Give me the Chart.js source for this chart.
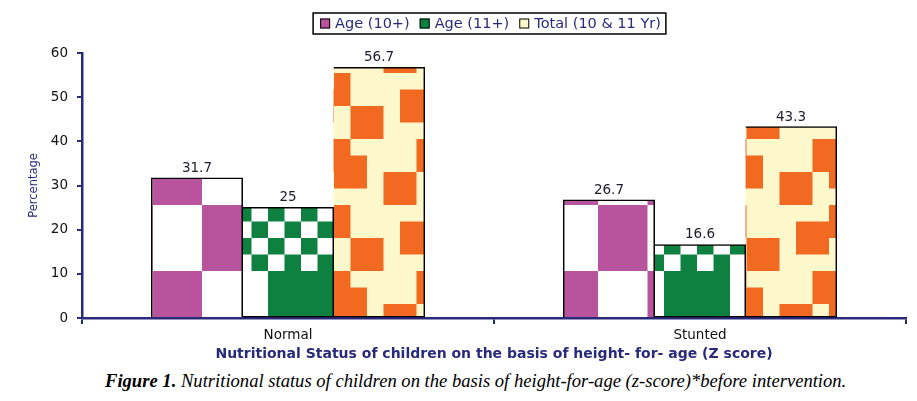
<!DOCTYPE html>
<html>
<head>
<meta charset="utf-8">
<script src="https://cdn.jsdelivr.net/npm/chart.js@4.4.1/dist/chart.umd.min.js"></script>
<style>
  html, body { margin: 0; padding: 0; background: #fff; }
  #wrap { position: relative; width: 917px; height: 401px; overflow: hidden; }
  #c { position: absolute; left: 0; top: 0; }
  #caption {
    position: absolute; left: 105px; top: 370px; white-space: nowrap;
    font-family: "Liberation Serif", serif; font-style: italic; font-size: 18.6px;
    line-height: 22px; color: #000;
  }
</style>
</head>
<body>
<div id="wrap">
  <canvas id="c" width="917" height="368"></canvas>
  <div id="caption"><b>Figure 1.</b> Nutritional status of children on the basis of height-for-age (z-score)*before intervention.</div>
</div>
<script>
// data
const categories = ['Normal', 'Stunted'];
const seriesLabels = ['Age (10+)', 'Age (11+)', 'Total (10 & 11 Yr)'];
const age10 = [31.7, 26.7];
const age11 = [25, 16.6];
const total = [56.7, 43.3];
const yMin = 0, yMax = 60, yStep = 10;

const NAVY = '#2a2a7a';
const PURPLE = '#b8549e';
const GREEN = '#0e8040';
const ORANGE = '#f26a22';
const CREAM = '#fcf8cc';
const SANS = '"DejaVu Sans", sans-serif';

const canvas = document.getElementById('c');
const ctx = canvas.getContext('2d');

// fill patterns - tile is 99x132, cells of 16.5px
const U = 16.5;
function makePattern(bg, draw) {
  const t = document.createElement('canvas');
  t.width = 99; t.height = 132;
  const g = t.getContext('2d');
  g.fillStyle = bg;
  g.fillRect(0, 0, 99, 132);
  draw(g);
  const p = ctx.createPattern(t, 'repeat');
  p.setTransform(new DOMMatrix().translate(4, 73));
  return p;
}

const purplePat = makePattern('#fff', g => {
  g.fillStyle = PURPLE;
  g.fillRect(0, 0, 3 * U, 4 * U);
  g.fillRect(3 * U, 4 * U, 3 * U, 4 * U);
});

const greenPat = makePattern('#fff', g => {
  g.fillStyle = GREEN;
  for (let r = 0; r < 4; r++) {
    for (let c = 0; c < 6; c++) {
      if ((r + c) % 2 === 0) g.fillRect(c * U, r * U, U, U);
    }
  }
  g.fillRect(0, 4 * U, 2 * U, 4 * U);
  g.fillRect(4 * U, 4 * U, 2 * U, 4 * U);
});

const creamPat = makePattern(CREAM, g => {
  g.fillStyle = ORANGE;
  const sq = [[2, 0, 1, 2], [0, 1, 2, 2], [3, 2, 2, 2], [1, 4, 2, 2], [2, 5, 2, 2], [5, 6, 1, 2], [0, 6, 1, 2]];
  sq.forEach(([c, r, w, h]) => g.fillRect(c * U, r * U, w * U, h * U));
});

// value labels on top of the bars
const valueLabels = {
  id: 'valueLabels',
  afterDatasetsDraw(chart) {
    const c = chart.ctx;
    c.save();
    c.font = '13.5px ' + SANS;
    c.fillStyle = '#1c1c2c';
    c.textAlign = 'center';
    c.textBaseline = 'bottom';
    chart.data.datasets.forEach((ds, i) => {
      chart.getDatasetMeta(i).data.forEach((bar, j) => {
        c.fillText(String(ds.data[j]), bar.x, bar.y - 3);
      });
    });
    c.restore();
  }
};

// boxed legend at the top
const boxLegend = {
  id: 'boxLegend',
  afterDraw(chart) {
    const c = chart.ctx;
    c.save();
    c.font = '14.5px ' + SANS;
    const items = chart.data.datasets.map(ds => ({
      text: ds.label, color: ds.legendColor, w: c.measureText(ds.label).width
    }));
    const box = 10, gap = 5, space = 10, padL = 7, padR = 5;
    let w = padL + padR;
    items.forEach((it, i) => { w += box + gap + it.w + (i ? space : 0); });
    const cx = 489.5, top = 13, h = 21;
    let x = cx - w / 2;
    c.lineWidth = 1.5;
    c.strokeStyle = '#000';
    c.strokeRect(x, top, w, h);
    x += padL;
    const mid = top + h / 2;
    items.forEach(it => {
      c.fillStyle = it.color;
      c.fillRect(x, mid - 5, box, box);
      c.lineWidth = 1;
      c.strokeRect(x + 0.5, mid - 4.5, box - 1, box - 1);
      x += box + gap;
      c.fillStyle = NAVY;
      c.textBaseline = 'middle';
      c.fillText(it.text, x, mid + 0.5);
      x += it.w + space;
    });
    c.restore();
  }
};

new Chart(canvas, {
  type: 'bar',
  data: {
    labels: categories,
    datasets: [
      { label: seriesLabels[0], data: age10, backgroundColor: purplePat, legendColor: PURPLE, borderSkipped: 'bottom' },
      { label: seriesLabels[1], data: age11, backgroundColor: greenPat, legendColor: GREEN, borderSkipped: 'left' },
      { label: seriesLabels[2], data: total, backgroundColor: creamPat, legendColor: CREAM, borderSkipped: 'left' }
    ]
  },
  options: {
    responsive: false,
    animation: false,
    layout: { padding: { top: 53, right: 11, left: 0, bottom: 0 } },
    datasets: {
      bar: {
        borderColor: '#000',
        borderWidth: 1.5,
        inflateAmount: 0.5,
        categoryPercentage: 0.663,
        barPercentage: 1
      }
    },
    plugins: {
      legend: { display: false },
      tooltip: { enabled: false }
    },
    scales: {
      x: {
        afterFit: s => { s.height = 50; },
        grid: { offset: true, drawOnChartArea: false, tickLength: 6, color: NAVY, lineWidth: 2 },
        border: { color: NAVY, width: 2.5 },
        ticks: { color: '#111', font: { family: SANS, size: 13.5 }, padding: 3 },
        title: {
          display: true,
          text: 'Nutritional Status of children on the basis of height- for- age (Z score)',
          color: NAVY,
          font: { family: SANS, size: 14, weight: 'bold' },
          padding: { top: 0, bottom: 5 }
        }
      },
      y: {
        min: yMin,
        max: yMax,
        afterFit: s => { s.width = 82; },
        grid: { drawOnChartArea: false, tickLength: 5, color: NAVY, lineWidth: 2 },
        border: { color: NAVY, width: 2.5 },
        ticks: { stepSize: yStep, color: '#111', font: { family: SANS, size: 13.5 }, padding: 9 },
        title: {
          display: true,
          text: 'Percentage',
          color: NAVY,
          font: { family: SANS, size: 11.5 },
          padding: { top: 27, bottom: 0 }
        }
      }
    }
  },
  plugins: [valueLabels, boxLegend]
});
</script>
</body>
</html>
